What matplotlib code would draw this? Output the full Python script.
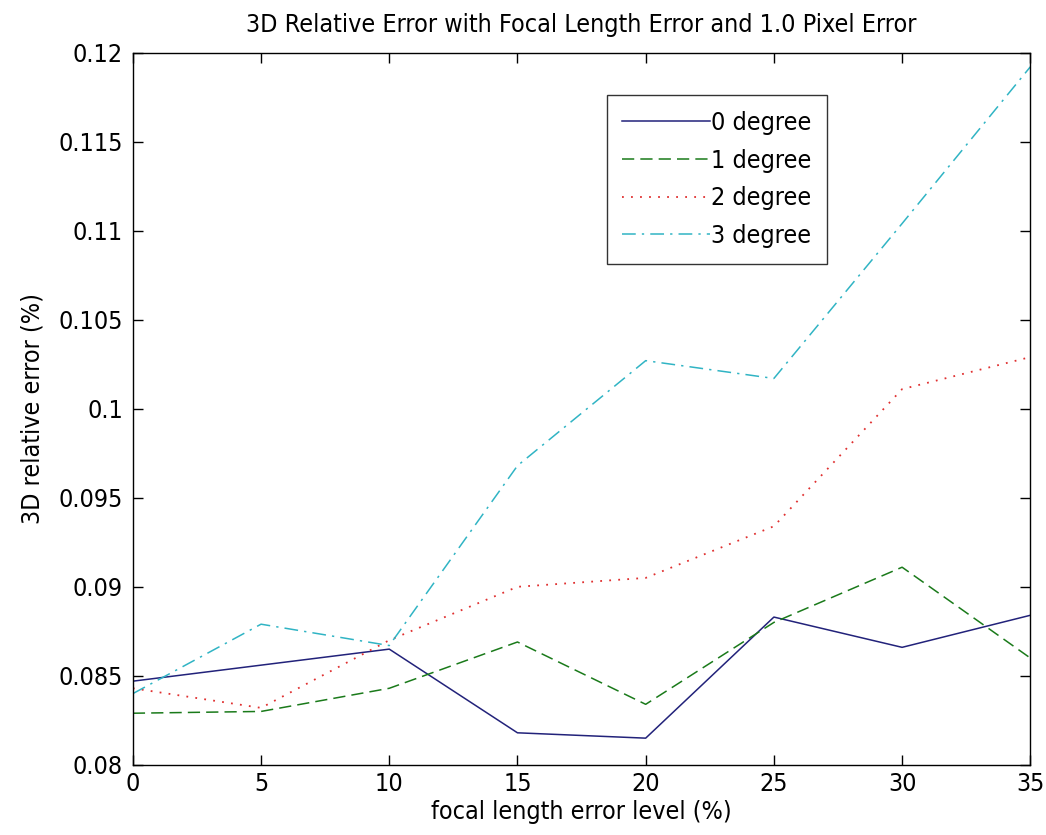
import matplotlib
matplotlib.use('Agg')
import matplotlib.pyplot as plt

plt.rcParams['font.family'] = ['DejaVu Sans']
plt.rcParams['font.stretch'] = 'condensed'

# focal length error level (%)
x = [0, 5, 10, 15, 20, 25, 30, 35]

deg0 = [0.0847, 0.0856, 0.0865, 0.0818, 0.0815, 0.0883, 0.0866, 0.0884]
deg1 = [0.0829, 0.0830, 0.0843, 0.0869, 0.0834, 0.0880, 0.0911, 0.0860]
deg2 = [0.0843, 0.0832, 0.0870, 0.0900, 0.0905, 0.0934, 0.1011, 0.1029]
deg3 = [0.0840, 0.0879, 0.0867, 0.0968, 0.1027, 0.1017, 0.1104, 0.1192]

labels = ['0 degree', '1 degree', '2 degree', '3 degree']

fig = plt.figure(figsize=(10.46, 8.35), dpi=100)
ax = fig.add_axes([0.127, 0.084, 0.858, 0.853])

ax.plot(x, deg0, color='#22227a', linestyle='-', linewidth=1.1, label=labels[0])
ax.plot(x, deg1, color='#1a7a1a', linestyle=(0, (8, 4)), linewidth=1.1, label=labels[1])
ax.plot(x, deg2, color='#e03030', linestyle=(0, (1, 4)), linewidth=1.3, label=labels[2])
ax.plot(x, deg3, color='#30b4c4', linestyle=(0, (9, 4, 1.5, 4)), linewidth=1.1, label=labels[3])

ax.set_xlim(0, 35)
ax.set_ylim(0.08, 0.12)
ax.set_xticks(range(0, 36, 5))
ax.set_yticks([0.08, 0.085, 0.09, 0.095, 0.1, 0.105, 0.11, 0.115, 0.12])
ax.set_yticklabels(['0.08', '0.085', '0.09', '0.095', '0.1', '0.105', '0.11', '0.115', '0.12'])
ax.tick_params(direction='in', length=7, width=1, top=True, right=True, labelsize=18)
ax.tick_params(axis='y', pad=7)
ax.tick_params(axis='x', pad=5)
for s in ax.spines.values():
    s.set_linewidth(1.0)

ax.set_xlabel('focal length error level (%)', fontsize=18, labelpad=3)
ax.set_ylabel('3D relative error (%)', fontsize=18, labelpad=10)
ax.set_title('3D Relative Error with Focal Length Error and 1.0 Pixel Error', fontsize=18, pad=15)

leg = ax.legend(loc='upper left', bbox_to_anchor=(0.528, 0.94), fontsize=18,
                frameon=True, fancybox=False, edgecolor='black', handlelength=3.5,
                handletextpad=0.05, borderpad=0.62, labelspacing=0.55, borderaxespad=0)
leg.get_frame().set_linewidth(1.0)

fig.savefig('out.png', dpi=100)
